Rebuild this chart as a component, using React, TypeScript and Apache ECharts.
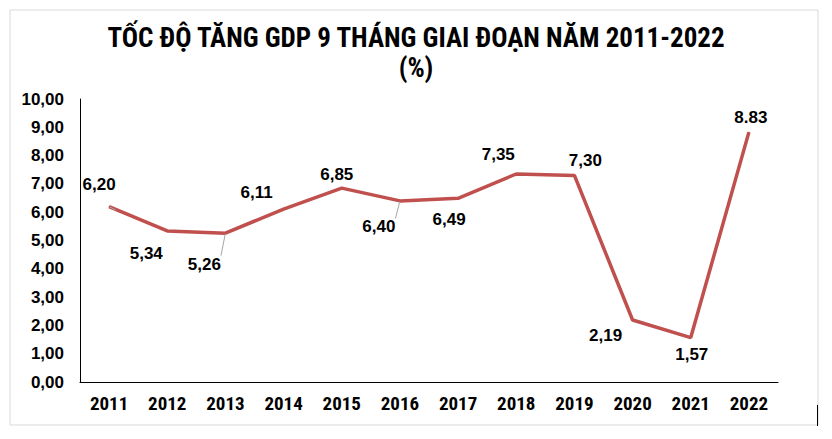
import React, { useEffect, useRef } from "react";
import * as echarts from "echarts";

const categories = ["2011", "2012", "2013", "2014", "2015", "2016", "2017", "2018", "2019", "2020", "2021", "2022"];
const growth = [6.2, 5.34, 5.26, 6.11, 6.85, 6.4, 6.49, 7.35, 7.3, 2.19, 1.57, 8.83];
const valueLabels = ["6,20", "5,34", "5,26", "6,11", "6,85", "6,40", "6,49", "7,35", "7,30", "2,19", "1,57", "8.83"];
const labelSides = ["top", "bottom", "bottom", "top", "top", "bottom", "bottom", "top", "top", "bottom", "bottom", "top"];
const labelOffsets = [[-10, -8], [-21, 9], [-21, 17], [-27, -3], [-5, 0], [-21, 12], [-9, 7], [-18, -5], [11, -1], [-27, 1], [1, 3], [2, -1]];
const withGuide = [true, false, true, false, false, true, false, false, false, false, false, false];

const titleLine1 = "TỐC ĐỘ TĂNG GDP 9 THÁNG GIAI ĐOẠN NĂM 2011-2022";
const titleLine2 = "(%)";

export default function App() {
  const ref = useRef<HTMLDivElement>(null);
  useEffect(() => {
    if (!ref.current) return;
    const chart = echarts.init(ref.current, undefined, { renderer: "svg" });
    const narrow = "'Liberation Sans Narrow', 'Arial Narrow', 'Roboto Condensed', 'Liberation Sans', Arial, sans-serif";
    const sans = "'Liberation Sans', Arial, sans-serif";
    chart.setOption({
      animation: false,
      backgroundColor: "#ffffff",
      title: {
        text: titleLine1 + "\n" + titleLine2,
        left: "center",
        top: 18,
        textStyle: {
          fontFamily: narrow,
          fontWeight: "bold",
          fontSize: 27,
          lineHeight: 30,
          color: "#000000",
        },
      },
      graphic: [
        {
          type: "rect",
          shape: { x: 10, y: 10, width: 808, height: 415 },
          style: { fill: "none", stroke: "#d9d9d9", lineWidth: 1 },
          silent: true,
        },
        {
          type: "line",
          shape: { x1: 817.5, y1: 405, x2: 817.5, y2: 426 },
          style: { stroke: "#000000", lineWidth: 1 },
          silent: true,
        },
      ],
      grid: { left: 80, right: 54, top: 99, bottom: 57 },
      xAxis: {
        type: "category",
        data: categories,
        boundaryGap: true,
        axisLine: { show: true, lineStyle: { color: "#000000", width: 1 } },
        axisTick: { show: false },
        axisLabel: {
          fontFamily: narrow,
          fontWeight: "bold",
          fontSize: 19,
          color: "#000000",
          margin: 12,
        },
      },
      yAxis: {
        type: "value",
        min: 0,
        max: 10,
        interval: 1,
        splitLine: { show: false },
        axisLine: { show: true, lineStyle: { color: "#000000", width: 1 } },
        axisTick: { show: false },
        axisLabel: {
          fontFamily: sans,
          fontWeight: "bold",
          fontSize: 17,
          color: "#000000",
          margin: 16,
          formatter: (v: number) => v.toFixed(2).replace(".", ","),
        },
      },
      series: [
        {
          type: "line",
          data: growth.map((v, i) => ({
            value: v,
            label: {
              position: labelSides[i],
              offset: labelOffsets[i],
            },
            labelLine: { show: withGuide[i], lineStyle: { color: "#a6a6a6", width: 1 } },
          })),
          symbol: "circle",
          symbolSize: 1,
          showSymbol: true,
          itemStyle: { color: "#C0504D" },
          lineStyle: { color: "#C0504D", width: 3.5 },
          label: {
            show: true,
            fontFamily: sans,
            fontWeight: "bold",
            fontSize: 17,
            color: "#000000",
            formatter: (p: any) => valueLabels[p.dataIndex],
          },
          labelLine: { show: false, smooth: false, length2: 0 },
        },
      ],
    });
    return () => chart.dispose();
  }, []);
  return <div ref={ref} style={{ position: "fixed", left: 0, top: 0, width: 832, height: 439 }} />;
}
